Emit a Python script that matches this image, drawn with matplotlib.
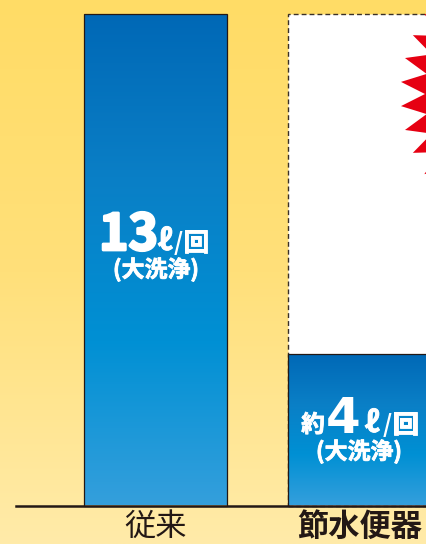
import matplotlib
matplotlib.use('Agg')
import matplotlib.pyplot as plt
import matplotlib.patheffects as pe
from matplotlib.colors import LinearSegmentedColormap
from matplotlib.patches import Rectangle, Polygon
import numpy as np

plt.rcParams['font.family'] = ['Noto Sans CJK JP', 'DejaVu Sans']

categories = ['従来', '節水便器']
flush_litres = [13, 4]
ghost_litres = [None, 13]
value_labels = ['13', '4']
litre_label = 'ℓ'
slash_label = '/'
unit_label = '回'
mode_label = '(大洗浄)'
prefix_label = '約'

W, H = 427, 544
fig = plt.figure(figsize=(W / 100, H / 100), dpi=100)

# background, in pixel coordinates
bg = fig.add_axes([0, 0, 1, 1])
bg.set_xlim(0, W)
bg.set_ylim(H, 0)
bg.axis('off')
bg_cmap = LinearSegmentedColormap.from_list('bg', ['#FFDC66', '#FFE07A', '#FFEBA9'])
grad = np.linspace(0, 1, 256).reshape(-1, 1)
bg.imshow(grad, cmap=bg_cmap, extent=[0, W, H, 0], aspect='auto', zorder=0)

# chart axes: value 0 at y=505.5 px, 13 at y=14 px
base_px, top_px = 505.5, 14
centre0, spacing, left_px = 155.5, 204, 16
ax = fig.add_axes([left_px / W, 1 - base_px / H, 1 - left_px / W, (base_px - top_px) / H])
ax.patch.set_alpha(0)
for s in ['top', 'left', 'right']:
    ax.spines[s].set_visible(False)
ax.spines['bottom'].set_linewidth(1.8)
ax.spines['bottom'].set_color('#231815')
ax.spines['bottom'].set_zorder(10)
ax.set_yticks([])
ax.set_xticks([0, 1])
ax.set_xticklabels(categories, fontsize=22.5, color='#231815')
ax.get_xticklabels()[1].set_fontweight('bold')
ax.tick_params(axis='x', length=0, pad=4)

bar_w = 143 / spacing
bar_cmap = LinearSegmentedColormap.from_list('bar', ['#0068B6', '#0A7FC6', '#0090D4', '#349FDC'])

# dashed ghost bar and burst
for i, g in enumerate(ghost_litres):
    if g is None:
        continue
    ax.add_patch(Rectangle((i - bar_w / 2, 0), bar_w, g, facecolor='white',
                           edgecolor='#3a3028', linewidth=1.0, linestyle=(0, (3.5, 2.2)),
                           clip_on=False, zorder=1))

n_spikes = 38
burst_a = np.pi + np.linspace(0, 2 * np.pi, 2 * n_spikes, endpoint=False) + np.pi / n_spikes
burst_r = np.where(np.arange(2 * n_spikes) % 2 == 0, 146.5, 122)
burst = np.column_stack([547 + burst_r * np.cos(burst_a), 94 + burst_r * np.sin(burst_a)])
ax.add_patch(Polygon(burst, closed=True, facecolor='#E60012', edgecolor='none',
                     transform=bg.transData, clip_on=False, zorder=2))

# bars with vertical gradient
for i, v in enumerate(flush_litres):
    x0 = i - bar_w / 2
    rect = Rectangle((x0, 0), bar_w, v, facecolor='none', edgecolor='#231815',
                     linewidth=0.9, clip_on=False, zorder=4)
    im = ax.imshow(grad, cmap=bar_cmap, extent=[x0, x0 + bar_w, 0, v], aspect='auto', zorder=3)
    ax.add_patch(rect)
    im.set_clip_path(rect)
ax.set_xlim((left_px - centre0) / spacing, (W - centre0) / spacing)
ax.set_ylim(0, 13)

# labels on the bars, in pixel coordinates
white = dict(color='white', fontweight='bold', zorder=6, va='baseline')
heavy = [pe.withStroke(linewidth=2.0, foreground='white')]
medium = [pe.withStroke(linewidth=0.6, foreground='white')]
lab = fig.add_axes([0, 0, 1, 1])
lab.set_xlim(0, W)
lab.set_ylim(H, 0)
lab.axis('off')

lab.text(128.5, 250, value_labels[0], ha='center', fontsize=36, path_effects=heavy, **white)
lab.text(165, 250, litre_label, ha='center', fontsize=21, style='italic', path_effects=medium, **white)
lab.text(178, 250, slash_label, ha='center', fontsize=17, **white)
lab.text(196, 251, unit_label, ha='center', fontsize=18.5, path_effects=medium, **white)
lab.text(156, 277, mode_label, ha='center', fontsize=16.5, path_effects=medium, **white)

lab.text(313, 432, prefix_label, ha='center', fontsize=17, path_effects=medium, **white)
lab.text(343.5, 433, value_labels[1], ha='center', fontsize=36, family='DejaVu Sans', **white)
lab.text(372, 432, litre_label, ha='center', fontsize=21, style='italic', path_effects=medium, **white)
lab.text(387, 432, slash_label, ha='center', fontsize=17, **white)
lab.text(405.5, 433, unit_label, ha='center', fontsize=18.5, path_effects=medium, **white)
lab.text(359, 459, mode_label, ha='center', fontsize=16.5, path_effects=medium, **white)

fig.savefig('out.png', dpi=100)
